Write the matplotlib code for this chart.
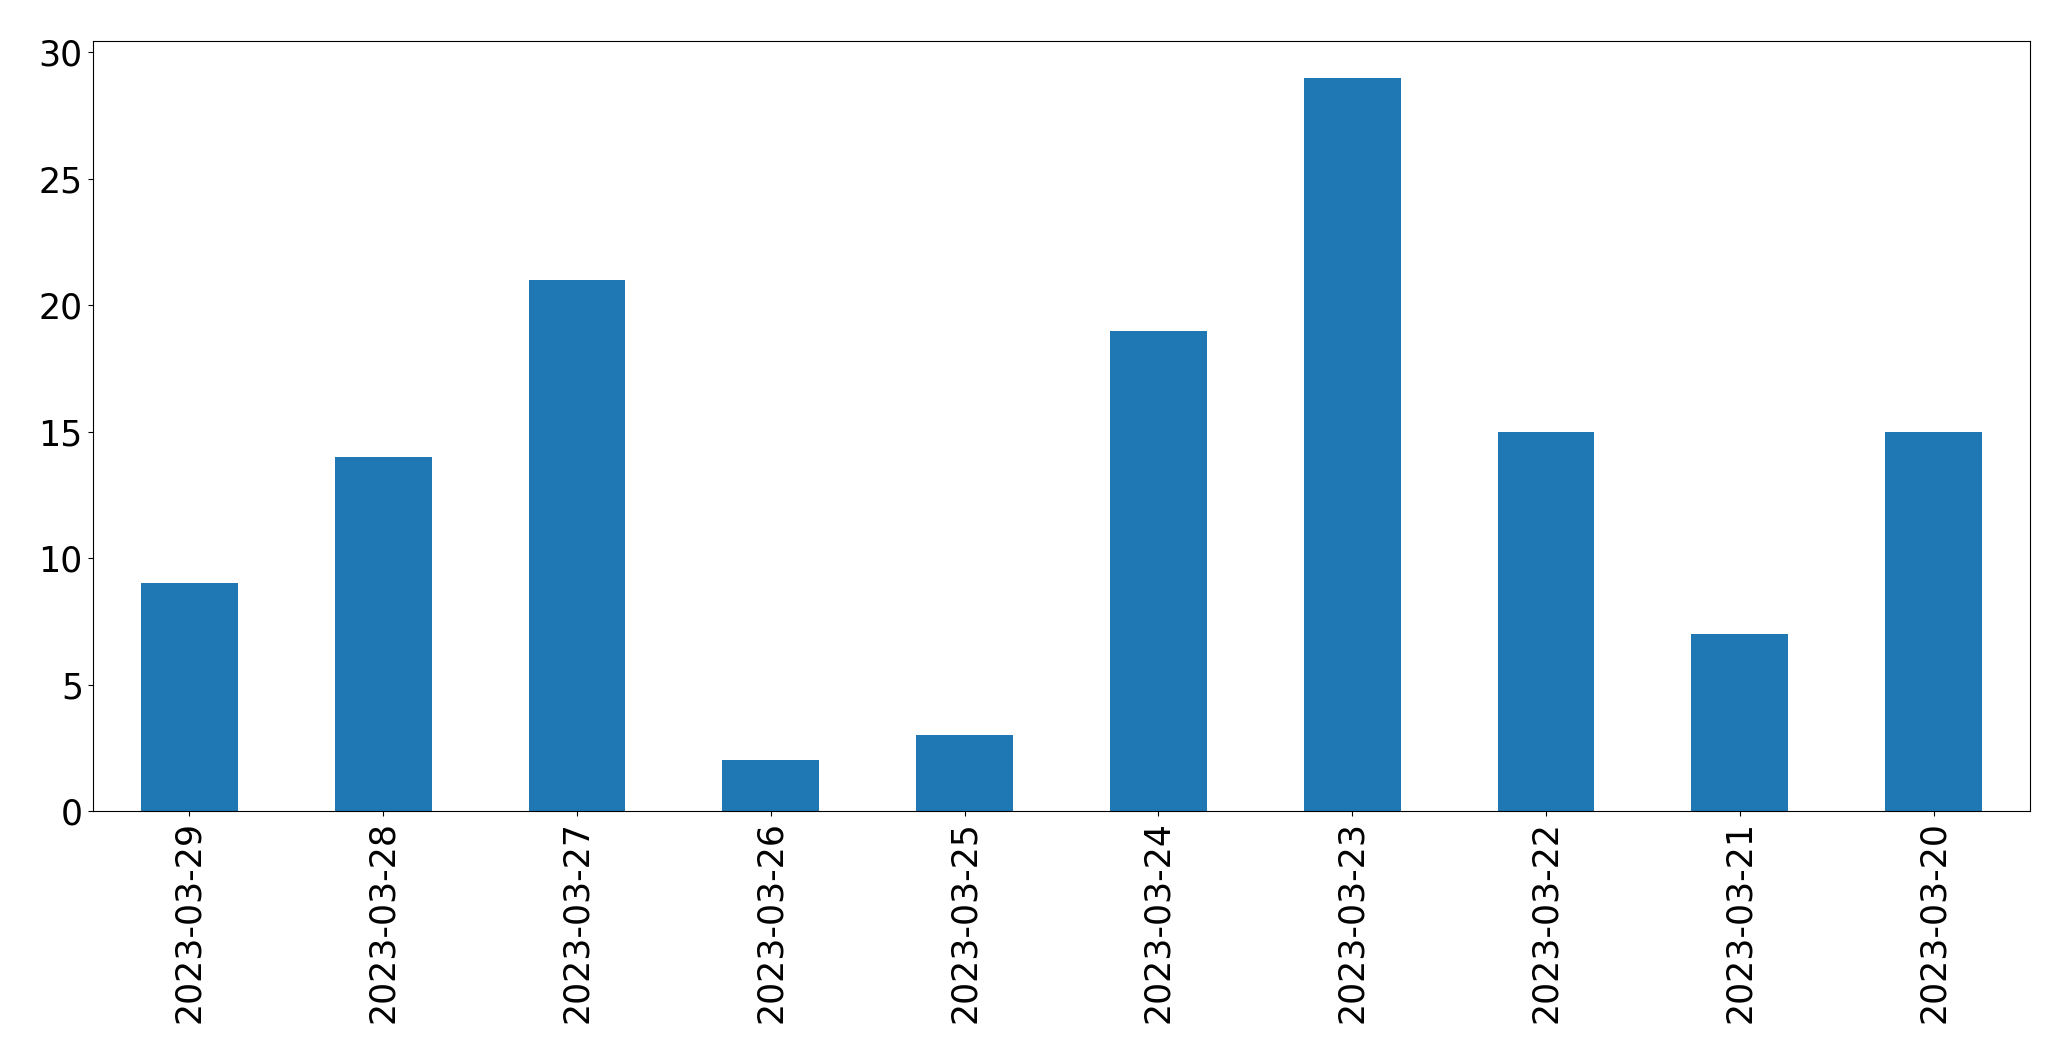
import matplotlib
matplotlib.use('Agg')
import matplotlib.pyplot as plt
import pandas as pd

dates = ['2023-03-29', '2023-03-28', '2023-03-27', '2023-03-26', '2023-03-25',
         '2023-03-24', '2023-03-23', '2023-03-22', '2023-03-21', '2023-03-20']
counts = [9, 14, 21, 2, 3, 19, 29, 15, 7, 15]

s = pd.Series(counts, index=dates)

fig = plt.figure(figsize=(20.71, 10.63), dpi=100)
ax = fig.add_axes([0.0447, 0.237, 0.9357, 0.7245])
s.plot(kind='bar', ax=ax, color='#1f77b4')
ax.tick_params(labelsize=25)
ax.set_yticks([0, 5, 10, 15, 20, 25, 30])

fig.savefig('out.png', dpi=100)
